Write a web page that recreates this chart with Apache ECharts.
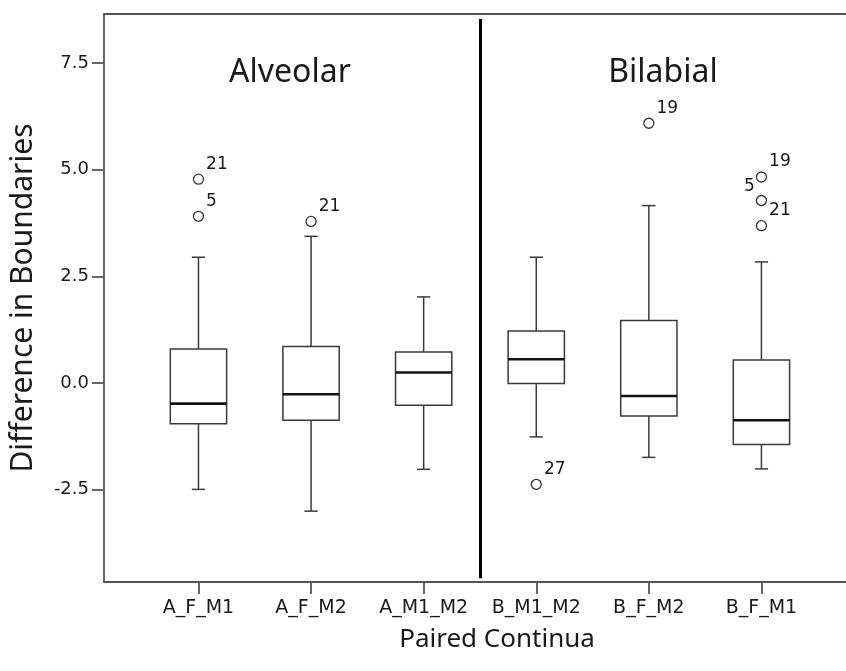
<!DOCTYPE html>
<html><head><meta charset="utf-8">
<script src="https://cdn.jsdelivr.net/npm/echarts@6/dist/echarts.min.js"></script>
<style>html,body{margin:0;padding:0;background:#fff}#c{width:846px;height:671px}</style>
</head><body><div id="c"></div>
<script>
// ---- data ----
const categories = ['A_F_M1', 'A_F_M2', 'A_M1_M2', 'B_M1_M2', 'B_F_M2', 'B_F_M1'];
const whiskerLow  = [-2.49, -3.00, -2.02, -1.26, -1.74, -2.01];
const q1          = [-0.95, -0.87, -0.52, -0.01, -0.77, -1.44];
const median      = [-0.48, -0.26,  0.25,  0.56, -0.30, -0.87];
const q3          = [ 0.80,  0.86,  0.73,  1.22,  1.47,  0.54];
const whiskerHigh = [ 2.95,  3.44,  2.02,  2.95,  4.16,  2.84];
const outlierCategory = ['A_F_M1', 'A_F_M1', 'A_F_M2', 'B_M1_M2', 'B_F_M2', 'B_F_M1', 'B_F_M1', 'B_F_M1'];
const outlierValue    = [4.78, 3.91, 3.79, -2.37, 6.09, 4.83, 4.28, 3.69];
const outlierCase     = ['21', '5', '21', '27', '19', '19', '5', '21'];
const yTicks = [-2.5, 0, 2.5, 5, 7.5];
const groupTitles = ['Alveolar', 'Bilabial'];
const xName = 'Paired Continua';
const yName = 'Difference in Boundaries';

// ---- styling / layout ----
const leftLabelled = new Set([6]); // outlier label drawn on the left side
const xMin = -0.839, xMax = 5.751, yMin = -4.66, yMax = 8.65;
const dividerX = 2.5, dividerTop = 8.53, dividerBottom = -4.57;
const axisCol = '#555';
const txt = '#1a1a1a';

const chart = echarts.init(document.getElementById('c'), null, {renderer: 'canvas'});

const boxData = categories.map((c, i) => [i, whiskerLow[i], q1[i], median[i], q3[i], whiskerHigh[i]]);
const outData = outlierValue.map((v, k) => {
  const left = leftLabelled.has(k);
  return {
    value: [categories.indexOf(outlierCategory[k]), v],
    name: outlierCase[k],
    label: left ? {position: 'left', distance: 1, offset: [0, -14]}
                : {position: 'right', distance: 2, offset: [0, -15]}
  };
});

chart.setOption({
  animation: false,
  backgroundColor: '#fff',
  title: [
    {text: groupTitles[0], left: 285, top: 52, textAlign: 'center',
     textStyle: {fontFamily: 'Noto Sans', fontSize: 32, fontWeight: 'normal', color: txt}},
    {text: groupTitles[1], left: 658, top: 52, textAlign: 'center',
     textStyle: {fontFamily: 'Noto Sans', fontSize: 32, fontWeight: 'normal', color: txt}},
    {text: xName, left: 492, top: 622, textAlign: 'center',
     textStyle: {fontFamily: 'Noto Sans', fontSize: 26, fontWeight: 'normal', color: txt}}
  ],
  grid: {left: 100, right: 0, top: 14, bottom: 89, containLabel: false},
  xAxis: [
    {type: 'value', min: xMin, max: xMax, position: 'bottom',
     axisLine: {show: true, onZero: false, lineStyle: {color: axisCol, width: 1.8}},
     axisTick: {show: true, length: 12, inside: false, customValues: categories.map((c, i) => i),
                lineStyle: {color: axisCol, width: 1.8}},
     axisLabel: {show: true, customValues: categories.map((c, i) => i), margin: 17,
                 formatter: v => categories[Math.round(v)],
                 fontFamily: 'DejaVu Sans', fontSize: 19, color: txt},
     splitLine: {show: false}},
    {type: 'value', min: xMin, max: xMax, position: 'top',
     axisLine: {show: true, onZero: false, lineStyle: {color: axisCol, width: 1.8}},
     axisTick: {show: false}, axisLabel: {show: false}, splitLine: {show: false}}
  ],
  yAxis: {
    type: 'value', min: yMin, max: yMax,
    name: yName, nameLocation: 'middle', nameGap: 66, nameRotate: 90,
    nameTextStyle: {fontFamily: 'Noto Sans', fontSize: 30, color: txt},
    axisLine: {show: true, onZero: false, lineStyle: {color: axisCol, width: 1.8}},
    axisTick: {show: true, length: 12, customValues: yTicks, lineStyle: {color: axisCol, width: 1.8}},
    axisLabel: {show: true, customValues: yTicks, margin: 15, formatter: v => v.toFixed(1),
                fontFamily: 'DejaVu Sans', fontSize: 18, color: txt},
    splitLine: {show: false}
  },
  series: [
    {
      type: 'custom',
      xAxisIndex: 0,
      data: boxData,
      encode: {x: 0, y: [1, 2, 3, 4, 5]},
      renderItem(params, api) {
        const i = api.value(0);
        const lo = api.coord([i, api.value(1)]);
        const b1 = api.coord([i, api.value(2)]);
        const md = api.coord([i, api.value(3)]);
        const b3 = api.coord([i, api.value(4)]);
        const hi = api.coord([i, api.value(5)]);
        const bw = api.size([0.5, 0])[0];
        const cw = api.size([0.118, 0])[0];
        const x = lo[0];
        const st = {stroke: '#3a3a3a', lineWidth: 1.5, fill: null};
        return {type: 'group', children: [
          {type: 'line', shape: {x1: x, y1: hi[1], x2: x, y2: b3[1]}, style: st},
          {type: 'line', shape: {x1: x, y1: b1[1], x2: x, y2: lo[1]}, style: st},
          {type: 'line', shape: {x1: x - cw / 2, y1: hi[1], x2: x + cw / 2, y2: hi[1]}, style: st},
          {type: 'line', shape: {x1: x - cw / 2, y1: lo[1], x2: x + cw / 2, y2: lo[1]}, style: st},
          {type: 'rect', shape: {x: x - bw / 2, y: b3[1], width: bw, height: b1[1] - b3[1]},
           style: {stroke: '#3a3a3a', lineWidth: 1.5, fill: '#fff'}},
          {type: 'line', shape: {x1: x - bw / 2, y1: md[1], x2: x + bw / 2, y2: md[1]},
           style: {stroke: '#111', lineWidth: 2.6}}
        ]};
      },
      markLine: {
        silent: true, symbol: 'none', label: {show: false},
        lineStyle: {color: '#000', width: 3, type: 'solid'},
        data: [[{coord: [dividerX, dividerTop]}, {coord: [dividerX, dividerBottom]}]]
      },
      z: 2
    },
    {
      type: 'scatter',
      xAxisIndex: 0,
      data: outData,
      symbol: 'circle',
      symbolSize: 10,
      itemStyle: {color: '#fff', borderColor: '#333', borderWidth: 1.3, opacity: 1},
      label: {show: true, formatter: p => p.name, fontFamily: 'DejaVu Sans', fontSize: 17, color: txt},
      z: 3
    }
  ]
});
</script>
</body></html>
